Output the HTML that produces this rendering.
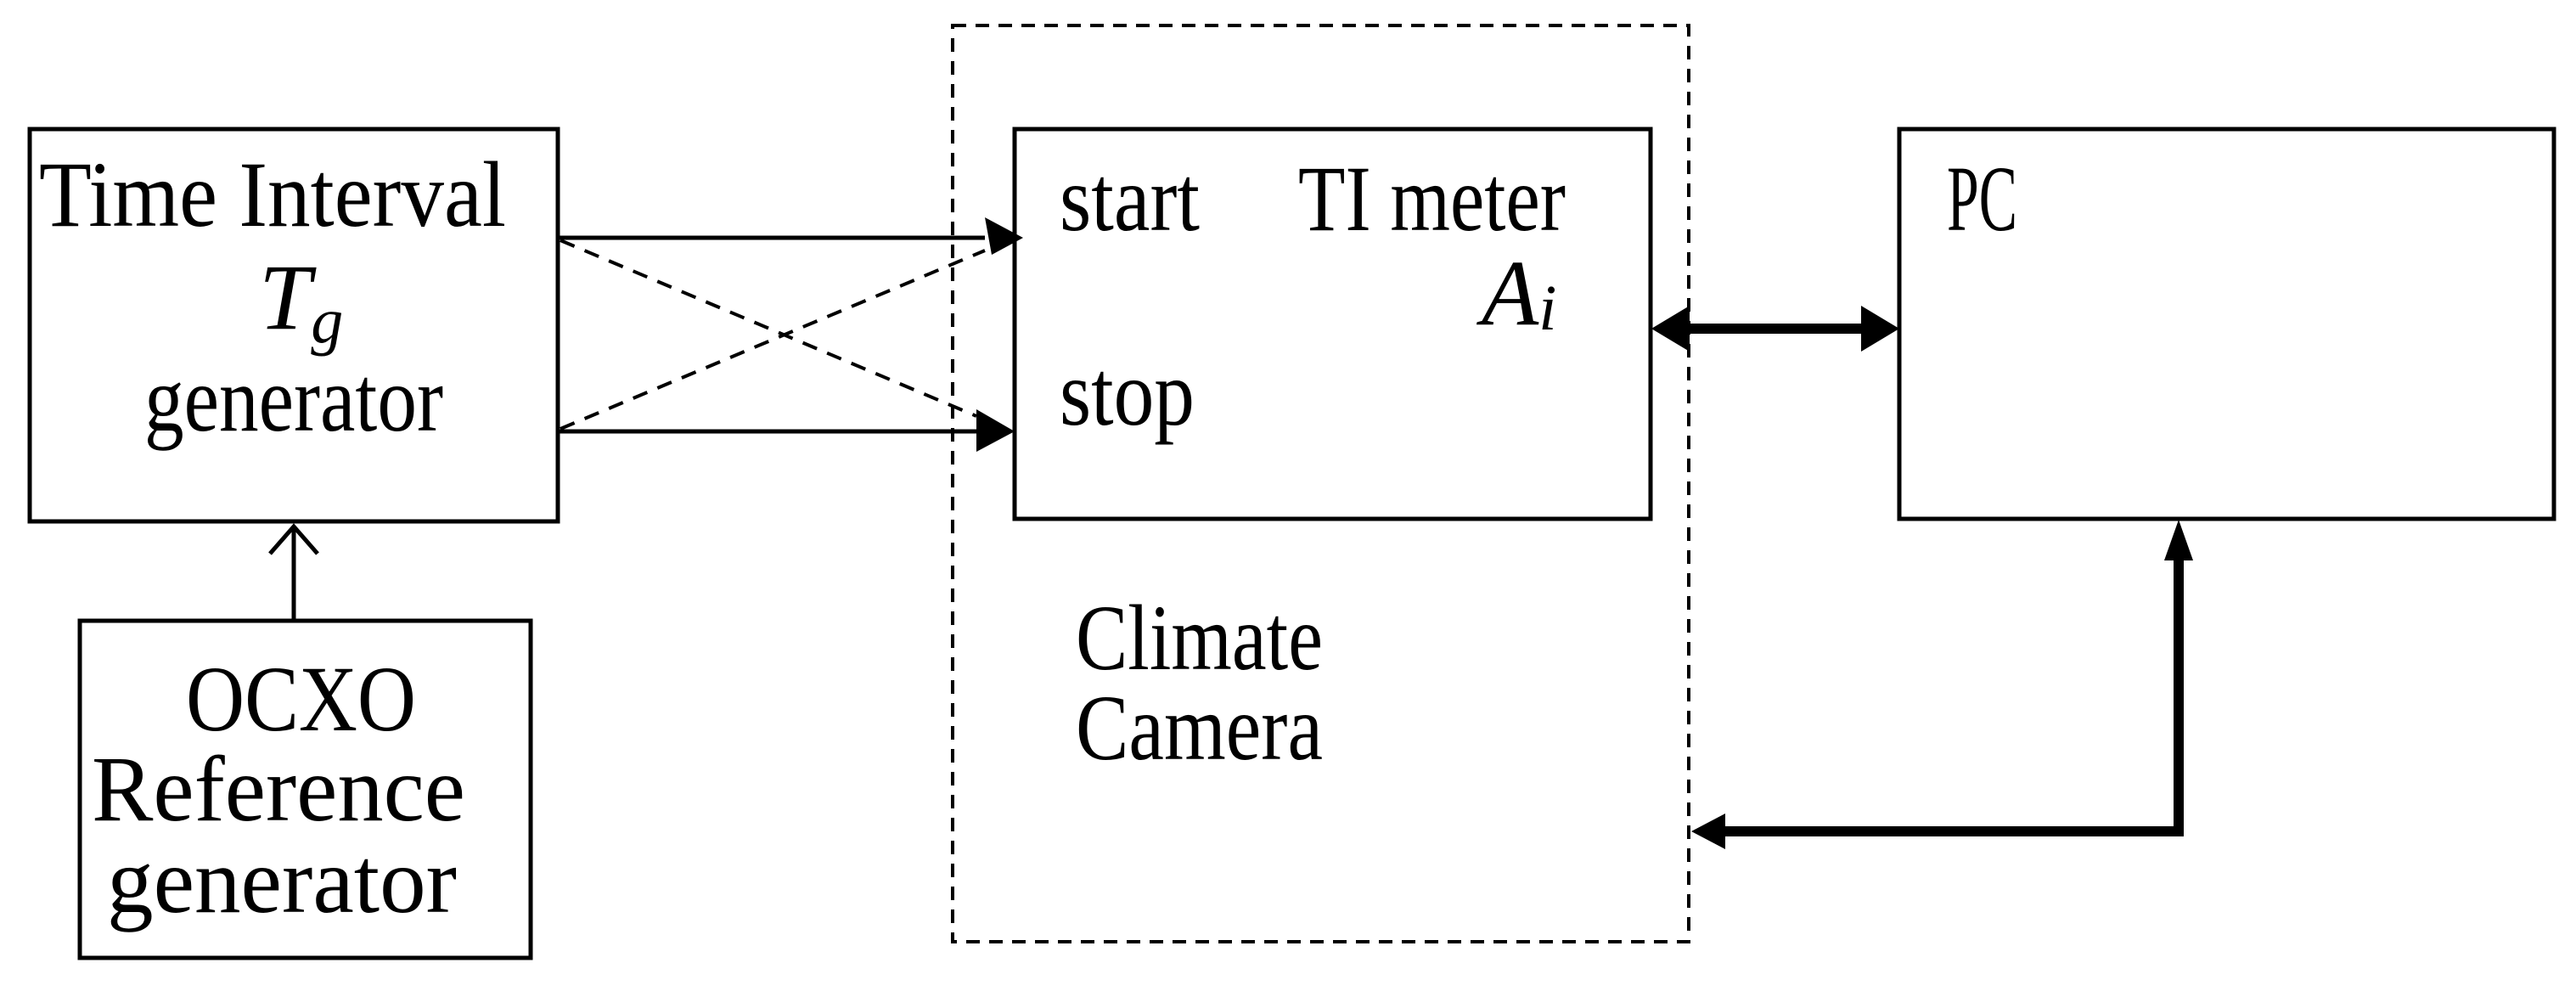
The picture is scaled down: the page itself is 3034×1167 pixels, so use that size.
<!DOCTYPE html>
<html><head><meta charset="utf-8"><style>
html,body{margin:0;padding:0;background:#fff;}
svg{display:block;}
text{font-family:"Liberation Serif",serif;font-size:110px;fill:#000;}
</style></head><body>
<svg width="3034" height="1167" viewBox="0 0 3034 1167" xmlns="http://www.w3.org/2000/svg">
<g fill="none" stroke="#000" stroke-width="5">
<rect x="35" y="152" width="622" height="462"/>
<rect x="94" y="731" width="531" height="397"/>
<rect x="1195" y="152" width="749" height="459"/>
<rect x="2237" y="152" width="771" height="459"/>
<rect x="1122" y="30" width="867" height="1079" stroke-dasharray="16,11" stroke-width="4"/>
<line x1="346" y1="731" x2="346" y2="620"/>
<polyline points="318,652 346,620 374,652"/>
<line x1="657" y1="280" x2="1160" y2="280"/>
<line x1="657" y1="508" x2="1160" y2="508"/>
<line x1="660" y1="283" x2="1150" y2="490" stroke-dasharray="18,13" stroke-width="4"/>
<line x1="660" y1="505" x2="1160" y2="295" stroke-dasharray="18,13" stroke-width="4"/>
</g>
<g fill="#000">
<polygon points="1205,280 1160,256 1168,300"/>
<polygon points="1195,508 1150,482 1150,532"/>
<rect x="1985" y="381" width="210" height="12"/>
<polygon points="1945,387 1990,360 1990,414"/>
<polygon points="2237,387 2192,360 2192,414"/>
<rect x="2560" y="655" width="12" height="330"/>
<rect x="2030" y="973" width="542" height="12"/>
<polygon points="2566,612 2549,660 2583,660"/>
<polygon points="1992,979 2032,958 2032,1000"/>
</g>
<text x="46" y="266" textLength="550" lengthAdjust="spacingAndGlyphs">Time Interval</text>
<text x="305" y="387" font-style="italic">T<tspan font-size="76" dy="16">g</tspan></text>
<text x="170" y="507" textLength="352" lengthAdjust="spacingAndGlyphs">generator</text>
<text x="219" y="860" textLength="271" lengthAdjust="spacingAndGlyphs">OCXO</text>
<text x="108" y="966" textLength="440" lengthAdjust="spacingAndGlyphs">Reference</text>
<text x="126" y="1074" textLength="412" lengthAdjust="spacingAndGlyphs">generator</text>
<text x="1248" y="271" textLength="165" lengthAdjust="spacingAndGlyphs">start</text>
<text x="1529" y="271" textLength="315" lengthAdjust="spacingAndGlyphs">TI meter</text>
<text x="1745" y="382" font-style="italic">A<tspan font-size="76" dy="6">i</tspan></text>
<text x="1248" y="500" textLength="159" lengthAdjust="spacingAndGlyphs">stop</text>
<text x="2293" y="271" textLength="83" lengthAdjust="spacingAndGlyphs">PC</text>
<text x="1267" y="788" textLength="291" lengthAdjust="spacingAndGlyphs">Climate</text>
<text x="1267" y="894" textLength="291" lengthAdjust="spacingAndGlyphs">Camera</text>
</svg>
</body></html>
